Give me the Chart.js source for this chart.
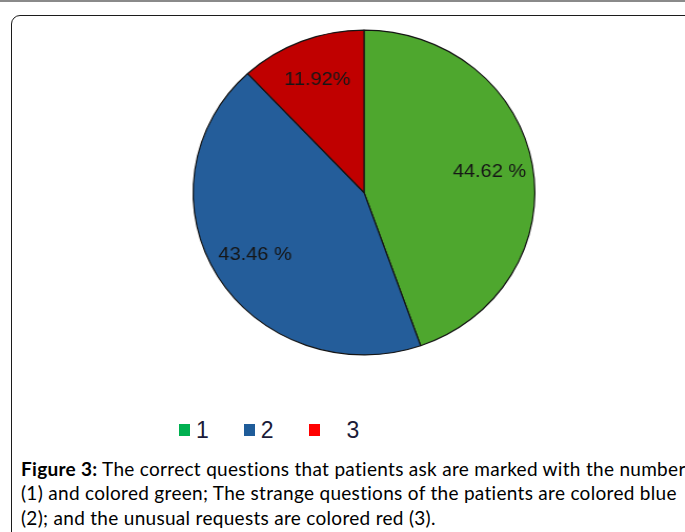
<!DOCTYPE html>
<html>
<head>
<meta charset="utf-8">
<script src="https://cdn.jsdelivr.net/npm/chart.js@4/dist/chart.umd.min.js"></script>
<style>
  html, body { margin: 0; padding: 0; background: #fff; overflow: hidden; }
  body { width: 685px; height: 532px; position: relative; }
  .topline { position: absolute; left: 0; top: 0; width: 685px; height: 2px; background: #8a8a8a; }
  .frame {
    position: absolute; left: 11px; top: 15px; width: 720px; height: 600px;
    border: 1.6px solid #1c1c1c; border-radius: 9px; box-sizing: border-box;
  }
  .chart-wrap {
    position: absolute; left: 0; top: 0; width: 651px; height: 385px;
    transform: scaleX(1.052); transform-origin: 0 0;
  }
  .legend {
    position: absolute; left: 179px; top: 419px; display: flex; align-items: flex-start;
    font-family: "Liberation Sans", Arial, sans-serif; font-size: 23px; line-height: 23px; color: #1b1b38;
  }
  .legend .item { display: flex; align-items: flex-start; margin-right: 35px; }
  .legend .box { width: 11px; height: 12px; margin-top: 5px; margin-right: 6px; }
  .legend .item:nth-child(3) .box { margin-right: 27px; }
  .caption {
    position: absolute; left: 21px; top: 457px; white-space: nowrap;
    font-family: Lato, "Open Sans", sans-serif; font-size: 19px; letter-spacing: 0.3px;
    line-height: 24.3px; color: #000;
  }
  .caption b { font-weight: 700; }
</style>
</head>
<body>
<div class="topline"></div>
<div class="frame"></div>
<div class="chart-wrap"><canvas id="pie"></canvas></div>
<div class="legend" id="legend"></div>
<div class="caption">
  <b>Figure 3:</b> The correct questions that patients ask are marked with the number<br>
  (1) and colored green; The strange questions of the patients are colored blue<br>
  (2); and the unusual requests are colored red (3).
</div>
<script>
// Question categories and their shares (%)
const categories = ["1", "2", "3"];
const shares = [44.62, 43.46, 11.92];
const shareLabels = ["44.62 %", "43.46 %", "11.92%"];
const sliceColors = ["#4EA72E", "#245D9A", "#C00000"];
const legendColors = ["#00B050", "#1F5C99", "#FF0000"];

// Legend row under the pie
const legendEl = document.getElementById("legend");
categories.forEach((c, i) => {
  const item = document.createElement("div");
  item.className = "item";
  const box = document.createElement("span");
  box.className = "box";
  box.style.background = legendColors[i];
  const txt = document.createElement("span");
  txt.textContent = c;
  item.appendChild(box);
  item.appendChild(txt);
  legendEl.appendChild(item);
});

// Percentage text placed inside each slice
const sliceLabels = {
  id: "sliceLabels",
  afterDatasetsDraw(chart) {
    const ctx = chart.ctx;
    const meta = chart.getDatasetMeta(0);
    ctx.save();
    ctx.font = '19px "Liberation Sans", Arial, sans-serif';
    ctx.fillStyle = "#161616";
    ctx.textAlign = "center";
    ctx.textBaseline = "middle";
    meta.data.forEach((arc, i) => {
      const p = arc.getProps(["x", "y", "startAngle", "endAngle", "outerRadius"], true);
      const mid = (p.startAngle + p.endAngle) / 2;
      const r = p.outerRadius * 0.745;
      ctx.fillText(shareLabels[i], p.x + Math.cos(mid) * r, p.y + Math.sin(mid) * r);
    });
    ctx.restore();
  }
};

new Chart(document.getElementById("pie"), {
  type: "pie",
  data: {
    labels: categories,
    datasets: [{
      data: shares,
      backgroundColor: sliceColors,
      borderColor: "#141414",
      borderWidth: 1.2
    }]
  },
  options: {
    responsive: true,
    maintainAspectRatio: false,
    animation: false,
    layout: { padding: { top: 29.5, bottom: 29.5, left: 41, right: 0 } },
    plugins: { legend: { display: false }, tooltip: { enabled: false } }
  },
  plugins: [sliceLabels]
});
</script>
</body>
</html>
